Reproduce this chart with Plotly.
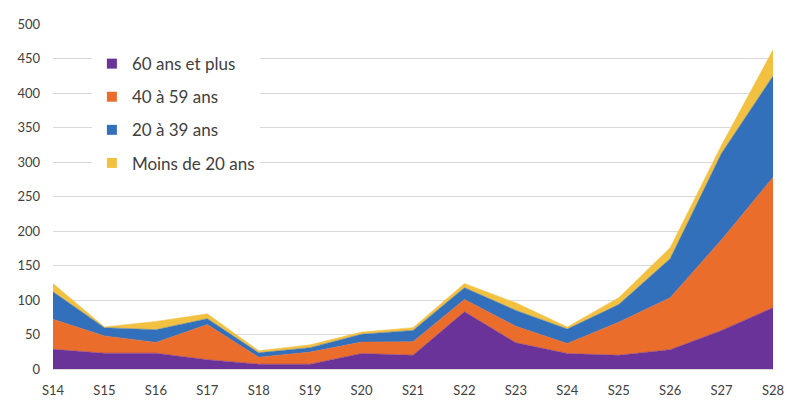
import plotly.graph_objects as go

weeks = ["S14", "S15", "S16", "S17", "S18", "S19", "S20", "S21", "S22", "S23", "S24", "S25", "S26", "S27", "S28"]
age_60_plus = [28.5, 23, 23, 13.5, 7, 7, 22.5, 20, 83, 38, 22.5, 20, 28, 56, 89]
age_40_59 = [43.5, 25, 15.5, 51, 10, 17.5, 16.5, 19.5, 18, 24, 14.5, 48, 75.5, 131.5, 189]
age_20_39 = [40, 12, 18.5, 8.5, 6.5, 6.5, 11.5, 16.5, 17, 23, 21, 25.5, 56.5, 125.5, 147]
age_under_20 = [12, 1, 12, 7, 3, 4, 3, 4, 6, 11, 3, 10, 16, 12, 38]

series = [
    ("60 ans et plus", age_60_plus, "#6A3399"),
    ("40 à 59 ans", age_40_59, "#EB6D2C"),
    ("20 à 39 ans", age_20_39, "#3370BB"),
    ("Moins de 20 ans", age_under_20, "#F3C142"),
]

fig = go.Figure()
for i, (name, vals, col) in enumerate(series):
    fig.add_trace(go.Scatter(
        x=weeks, y=vals, name=name, mode="lines",
        stackgroup="one", fillcolor=col,
        line=dict(color=col, width=0.5),
        showlegend=False,
    ))
# legend entries with square swatches
for i, (name, vals, col) in enumerate(series):
    fig.add_trace(go.Scatter(
        x=[None], y=[None], name=name, mode="markers",
        marker=dict(symbol="square", size=10, color=col),
        legendgroup="g%d" % i, showlegend=True,
    ))

font = "Lato, 'Open Sans', sans-serif"
fig.update_layout(
    width=800, height=407,
    margin=dict(l=53, r=27, t=24, b=38),
    paper_bgcolor="white", plot_bgcolor="white",
    font=dict(family=font, size=13, color="#404040"),
    showlegend=True,
    legend=dict(
        x=0.054, y=0.936, xanchor="left", yanchor="top",
        bgcolor="white", font=dict(size=17, color="#404040"),
        tracegroupgap=8, traceorder="grouped",
    ),
    xaxis=dict(
        type="category", range=[0, 14], showgrid=False,
        showline=True, linecolor="#D9D9D9", ticks="",
        ticklabelstandoff=9, automargin=False,
        tickfont=dict(size=13, color="#404040"),
    ),
    yaxis=dict(
        range=[0, 500.5], dtick=50, showgrid=True, gridcolor="#D9D9D9",
        gridwidth=1, zeroline=False, ticks="",
        ticklabelstandoff=12, automargin=False,
        tickfont=dict(size=13, color="#404040"),
    ),
)

fig.write_html("out.html", config={"displayModeBar": False},
               post_script="document.body.style.margin='0px';")
